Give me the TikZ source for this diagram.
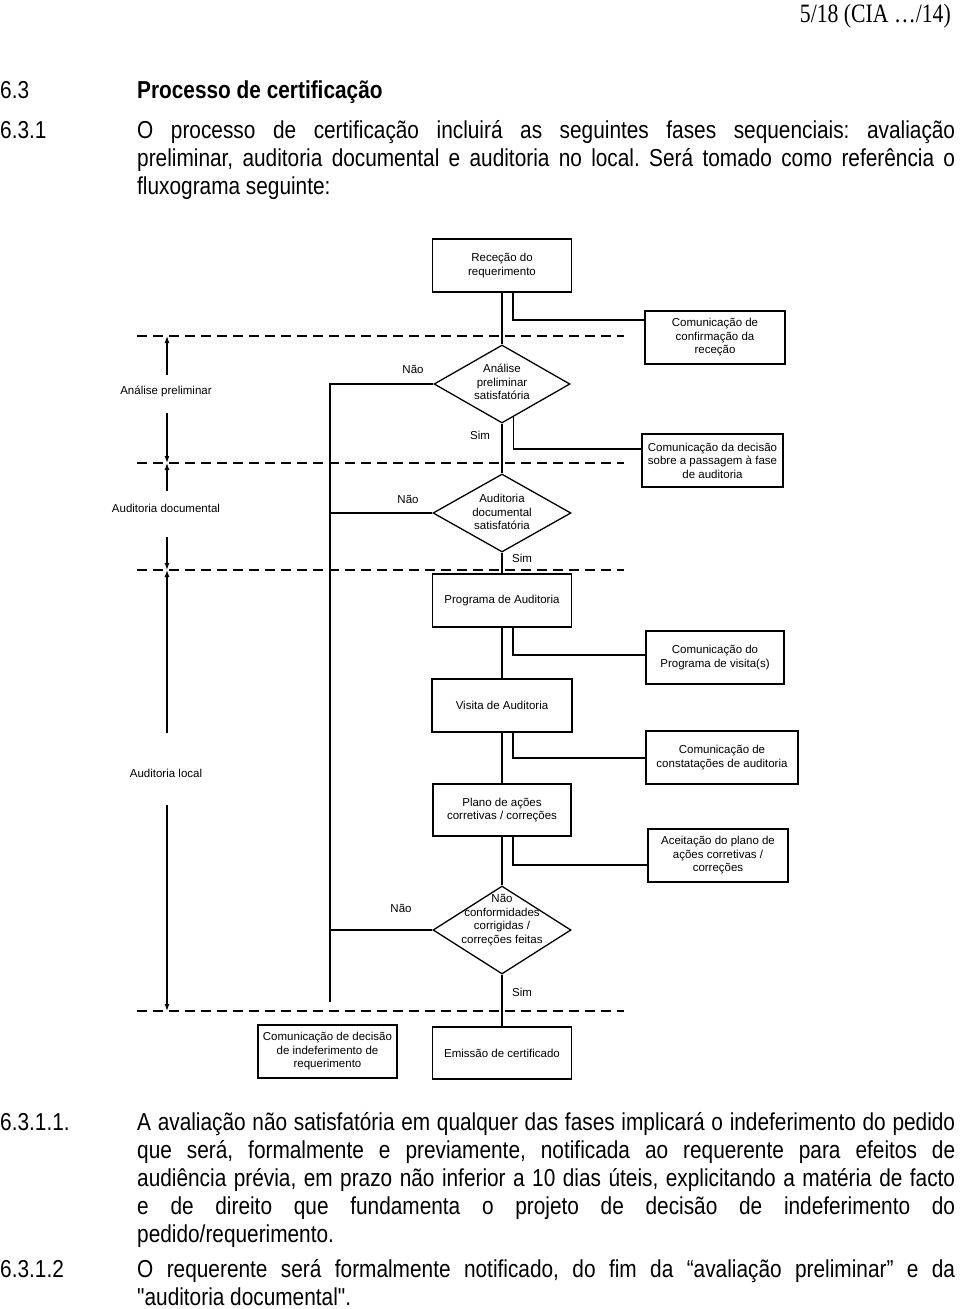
\documentclass[tikz,border=0pt]{standalone}
\usepackage{fontspec}
\setmainfont{Liberation Sans}
\newfontfamily\bodyfont[FakeStretch=0.85]{Liberation Sans}
\newfontfamily\headfont[FakeStretch=0.82]{Liberation Serif}
\usetikzlibrary{shapes.geometric}
\usetikzlibrary{arrows.meta}
\newcommand\flowfont{\fontsize{11.5}{13.5}\selectfont}
\newcommand\bodysize{\bodyfont\fontsize{24.5}{28}\selectfont\frenchspacing}

\begin{document}
\begin{tikzpicture}[x=1pt,y=-1pt,
		box/.style={draw,rectangle,line width=1.3pt,minimum width=139pt,minimum height=53pt,inner sep=2pt,align=center,font=\flowfont},
		decision/.style={draw,diamond,line width=1.3pt,minimum width=138pt,minimum height=78pt,inner sep=0pt},
		lbl/.style={inner sep=0pt,font=\flowfont},
		link/.style={line width=1.2pt},
		phase/.style={line width=1.4pt,dash pattern=on 10pt off 6pt},
		para/.style={anchor=base west,inner sep=0pt,text width=818pt,align=justify,font=\bodysize},
		num/.style={anchor=base west,inner sep=0pt,font=\bodysize},
		>={Latex[length=7pt,width=5pt]}]
	\path[use as bounding box,fill=white] (0,0) rectangle (960,1309);
	%% page text
	\node[anchor=base east,inner sep=0pt,font=\headfont\fontsize{26.5}{28}\selectfont] (pg) at (951,23) {5/18 (CIA …/14)};
	\node[num] (n63) at (0,98) {6.3};
	\node[num,font=\bodysize\bfseries] (t63) at (137,98) {Processo de certificação};
	\node[num] (n631) at (0,138) {6.3.1};
	\node[para] (p631) at (137,138) {O processo de certificação incluirá as seguintes fases sequenciais: avaliação\linebreak preliminar, auditoria documental e auditoria no local. Será tomado como referência o\linebreak fluxograma seguinte:};
	\node[num] (n6311) at (0,1130) {6.3.1.1.};
	\node[para] (p6311) at (137,1130) {A avaliação não satisfatória em qualquer das fases implicará o indeferimento do pedido\linebreak que será, formalmente e previamente, notificada ao requerente para efeitos de\linebreak audiência prévia, em prazo não inferior a 10 dias úteis, explicitando a matéria de facto\linebreak e de direito que fundamenta o projeto de decisão de indeferimento do\linebreak pedido/requerimento.};
	\node[num] (n6312) at (0,1277) {6.3.1.2};
	\node[para] (p6312) at (137,1277) {O requerente será formalmente notificado, do fim da “avaliação preliminar” e da\linebreak "auditoria documental".};
	%% phase limits
	\foreach \y [count=\i] in {336,463,570,1011} {
		\coordinate (dl\i) at (137,\y);
		\coordinate (dr\i) at (624,\y);
		\draw[phase] (dl\i) -- (dr\i);
	}
	%% phase names
	\node[lbl] (ph1) at (166,391) {Análise preliminar};
	\node[lbl] (ph2) at (166,508) {Auditoria documental};
	\node[lbl] (ph3) at (166,773) {Auditoria local};
	\coordinate (a1) at (167,375);
	\coordinate (a2) at (167,413);
	\coordinate (a3) at (167,491);
	\coordinate (a4) at (167,537);
	\coordinate (a5) at (167,733);
	\coordinate (a6) at (167,805);
	\draw[->,link] (a1) -- (a1 |- dl1);
	\draw[->,link] (a2) -- (a2 |- dl2);
	\draw[->,link] (a3) -- (a3 |- dl2);
	\draw[->,link] (a4) -- (a4 |- dl3);
	\draw[->,link] (a5) -- (a5 |- dl3);
	\draw[->,link] (a6) -- (a6 |- dl4);
	%% main steps
	\node[box] (rec) at (502,265.5) {Receção do\\requerimento};
	\node[decision,minimum width=136pt,label={[lbl,align=center,yshift=2pt]center:{Análise\\preliminar\\satisfatória}}] (d1) at (502,384) {};
	\node[decision,label={[lbl,align=center,yshift=1pt]center:{Auditoria\\documental\\satisfatória}}] (d2) at (502,513) {};
	\node[box] (prog) at (502,600.5) {Programa de Auditoria};
	\node[box,minimum width=140pt] (vis) at (502,705.5) {Visita de Auditoria};
	\node[box,minimum width=138pt,minimum height=52pt] (plano) at (502,810) {Plano de ações\\corretivas / correções};
	\node[decision,minimum height=88pt,label={[lbl,align=center,yshift=10pt]center:{Não\\conformidades\\corrigidas /\\correções feitas}}] (d3) at (502,930) {};
	\node[box,minimum height=52pt] (emi) at (502,1053) {Emissão de certificado};
	\node[box] (indef) at (327.5,1051.5) {Comunicação de decisão\\de indeferimento de\\requerimento};
	%% side steps
	\node[box,minimum width=140pt] (conf) at (715,337.5) {Comunicação de\\confirmação da\\receção};
	\node[box,minimum width=141pt] (dec) at (712.5,460.5) {Comunicação da decisão\\sobre a passagem à fase\\de auditoria};
	\node[box,minimum width=138pt] (cprog) at (715,657.5) {Comunicação do\\Programa de visita(s)};
	\node[box,minimum width=152pt] (cconst) at (722,757.5) {Comunicação de\\constatações de auditoria};
	\node[box,minimum width=140pt] (acc) at (718,855.5) {Aceitação do plano de\\ações corretivas /\\correções};
	%% answers
	\node[lbl] (nao1) at (413,369) {Não};
	\node[lbl] (sim1) at (480,435) {Sim};
	\node[lbl] (nao2) at (408,499) {Não};
	\node[lbl] (sim2) at (522,558) {Sim};
	\node[lbl] (nao3) at (401,908) {Não};
	\node[lbl] (sim3) at (522,992) {Sim};
	%% main flow
	\draw[link] (rec) -- (d1);
	\draw[link] (d1) -- (d2);
	\draw[link] (d2) -- (prog);
	\draw[link] (prog) -- (vis);
	\draw[link] (vis) -- (plano);
	\draw[link] (plano) -- (d3);
	\draw[link] (d3) -- (emi);
	%% side links
	\coordinate (s1) at (513,320);
	\coordinate (s2) at (513,449);
	\coordinate (s3) at (513,655);
	\coordinate (s4) at (513,758);
	\coordinate (s5) at (513,865);
	\draw[link] (rec.south -| s1) |- (conf.west |- s1);
	\draw[link] (d1.-71.5) |- (dec.west |- s2);
	\draw[link] (prog.south -| s3) |- (cprog.west |- s3);
	\draw[link] (vis.south -| s4) |- (cconst.west |- s4);
	\draw[link] (plano.south -| s5) |- (acc.west |- s5);
	%% rejection branch
	\coordinate (nb) at (330,1002);
	\draw[link] (d1.west) -| (nb);
	\draw[link] (d2.west) -- (d2.west -| nb);
	\draw[link] (d3.west) -- (d3.west -| nb);
\end{tikzpicture}
\end{document}
